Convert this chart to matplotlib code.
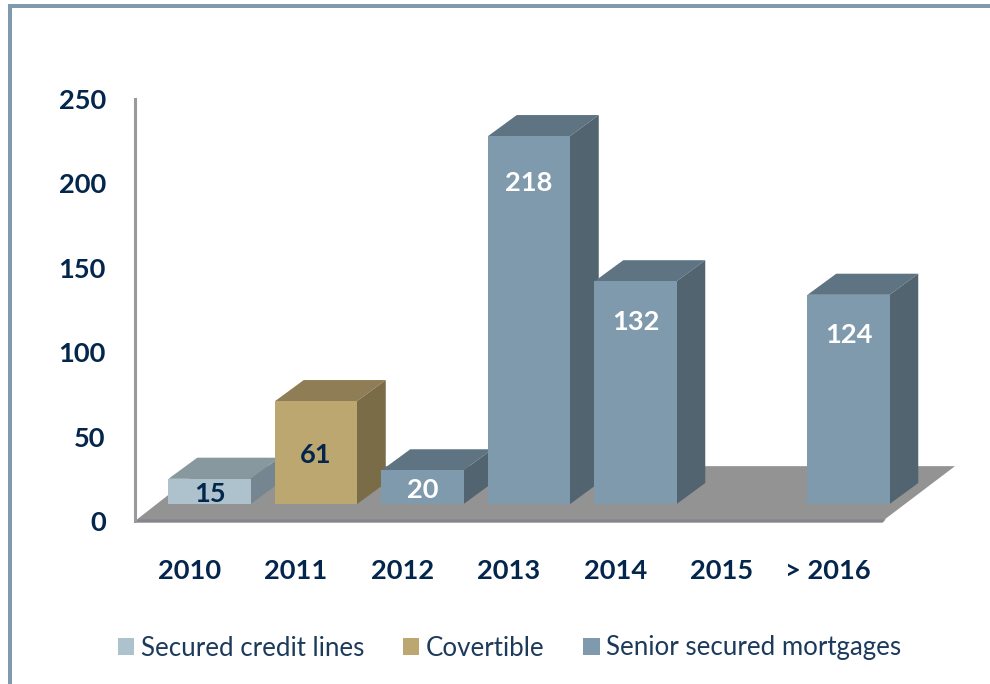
import numpy as np
import matplotlib
matplotlib.use("Agg")
import matplotlib.pyplot as plt
from matplotlib.patches import Patch, Polygon, Rectangle

plt.rcParams['font.family'] = ['Lato', 'DejaVu Sans']

years = ["2010", "2011", "2012", "2013", "2014", "2015", "> 2016"]
values = [15, 61, 20, 218, 132, np.nan, 124]
series_of_bar = [0, 1, 2, 2, 2, 2, 2]
series_names = ["Secured credit lines", "Covertible", "Senior secured mortgages"]

front_colors = ["#aec2cd", "#bda770", "#7f9aac"]
top_colors = ["#87989f", "#8f7d55", "#5f7483"]
side_colors = ["#758690", "#7a6c47", "#516470"]
navy = "#04264c"

W, H = 990, 684
fig = plt.figure(figsize=(W / 100, H / 100), dpi=100)

# axes box: y runs 0-250 between the floor edge and the top of the wall
left, right, bottom, top = 135, 960, 521, 99
ax = fig.add_axes([left / W, 1 - bottom / H, (right - left) / W, (bottom - top) / H])
spacing = 106.5
ax.set_xlim((left - 209.5) / spacing, (right - 209.5) / spacing)
ax.set_ylim(0, 250)

lift = 10      # bars stand this far up the floor
depth_x = 0.27
depth_y = 12.5
width = 0.77

# grey floor
ax.add_patch(Polygon([(-0.70, 0), (6.32, 0), (7.0, 32.5), (-0.04, 32.5)],
                     color="#939393", lw=0, zorder=1, clip_on=False))
ax.add_patch(Polygon([(-0.70, -1), (6.32, -1), (6.35, 1), (-0.67, 1)],
                     color="#85858e", lw=0, zorder=1.5, clip_on=False))

for i, v in enumerate(values):
    if np.isnan(v):
        continue
    s = series_of_bar[i]
    z = 2 + i
    x0 = i - width / 2
    x1 = i + width / 2
    y1 = lift + v
    ax.bar(i, v, width=width, bottom=lift, color=front_colors[s], lw=0, zorder=z + 0.5)
    ax.add_patch(Polygon([(x0, y1), (x1, y1), (x1 + depth_x, y1 + depth_y), (x0 + depth_x, y1 + depth_y)],
                         color=top_colors[s], lw=0, zorder=z))
    ax.add_patch(Polygon([(x1, lift), (x1 + depth_x, lift + depth_y), (x1 + depth_x, y1 + depth_y), (x1, y1)],
                         color=side_colors[s], lw=0, zorder=z))
    # tall bars carry the number near the top, short ones in the middle
    label_y = y1 - (18 + v * 0.045) if v > 100 else lift + v / 2 - 1.5
    ax.text(i, label_y, str(v), ha="center", va="center", fontsize=19.6, fontweight="bold",
            color=navy if s < 2 else "white", zorder=20)

for name in ["top", "right", "bottom"]:
    ax.spines[name].set_visible(False)
ax.spines["left"].set_color("#9a9a9a")
ax.spines["left"].set_linewidth(2.2)

ax.set_yticks(range(0, 251, 50))
ax.set_xticks(np.arange(len(years)) - 0.19)
ax.set_xticklabels(years)
ax.tick_params(axis="y", length=0, pad=21, labelsize=19.6, labelcolor=navy)
ax.tick_params(axis="x", length=0, pad=27.5, labelsize=19.6, labelcolor=navy)
for lab in ax.get_xticklabels() + ax.get_yticklabels():
    lab.set_fontweight("bold")

# frame round the top and left of the panel
fig.patches.append(Rectangle((8 / W, 0), 4 / W, 1 - 4 / H, transform=fig.transFigure, color="#7f9aac", lw=0))
fig.patches.append(Rectangle((8 / W, 1 - 8 / H), 1 - 8 / W, 4 / H, transform=fig.transFigure, color="#7f9aac", lw=0))

handles = [Patch(color=c, lw=0) for c in front_colors]
fig.legend(handles, series_names, ncol=3, frameon=False, fontsize=18.6,
           loc="center left", bbox_to_anchor=(118 / W, 1 - 648 / H),
           handlelength=0.62, handleheight=0.62, handletextpad=0.27, columnspacing=1.5,
           labelcolor="#1c3a5c", borderpad=0, borderaxespad=0)

fig.savefig("out.png", dpi=100)
